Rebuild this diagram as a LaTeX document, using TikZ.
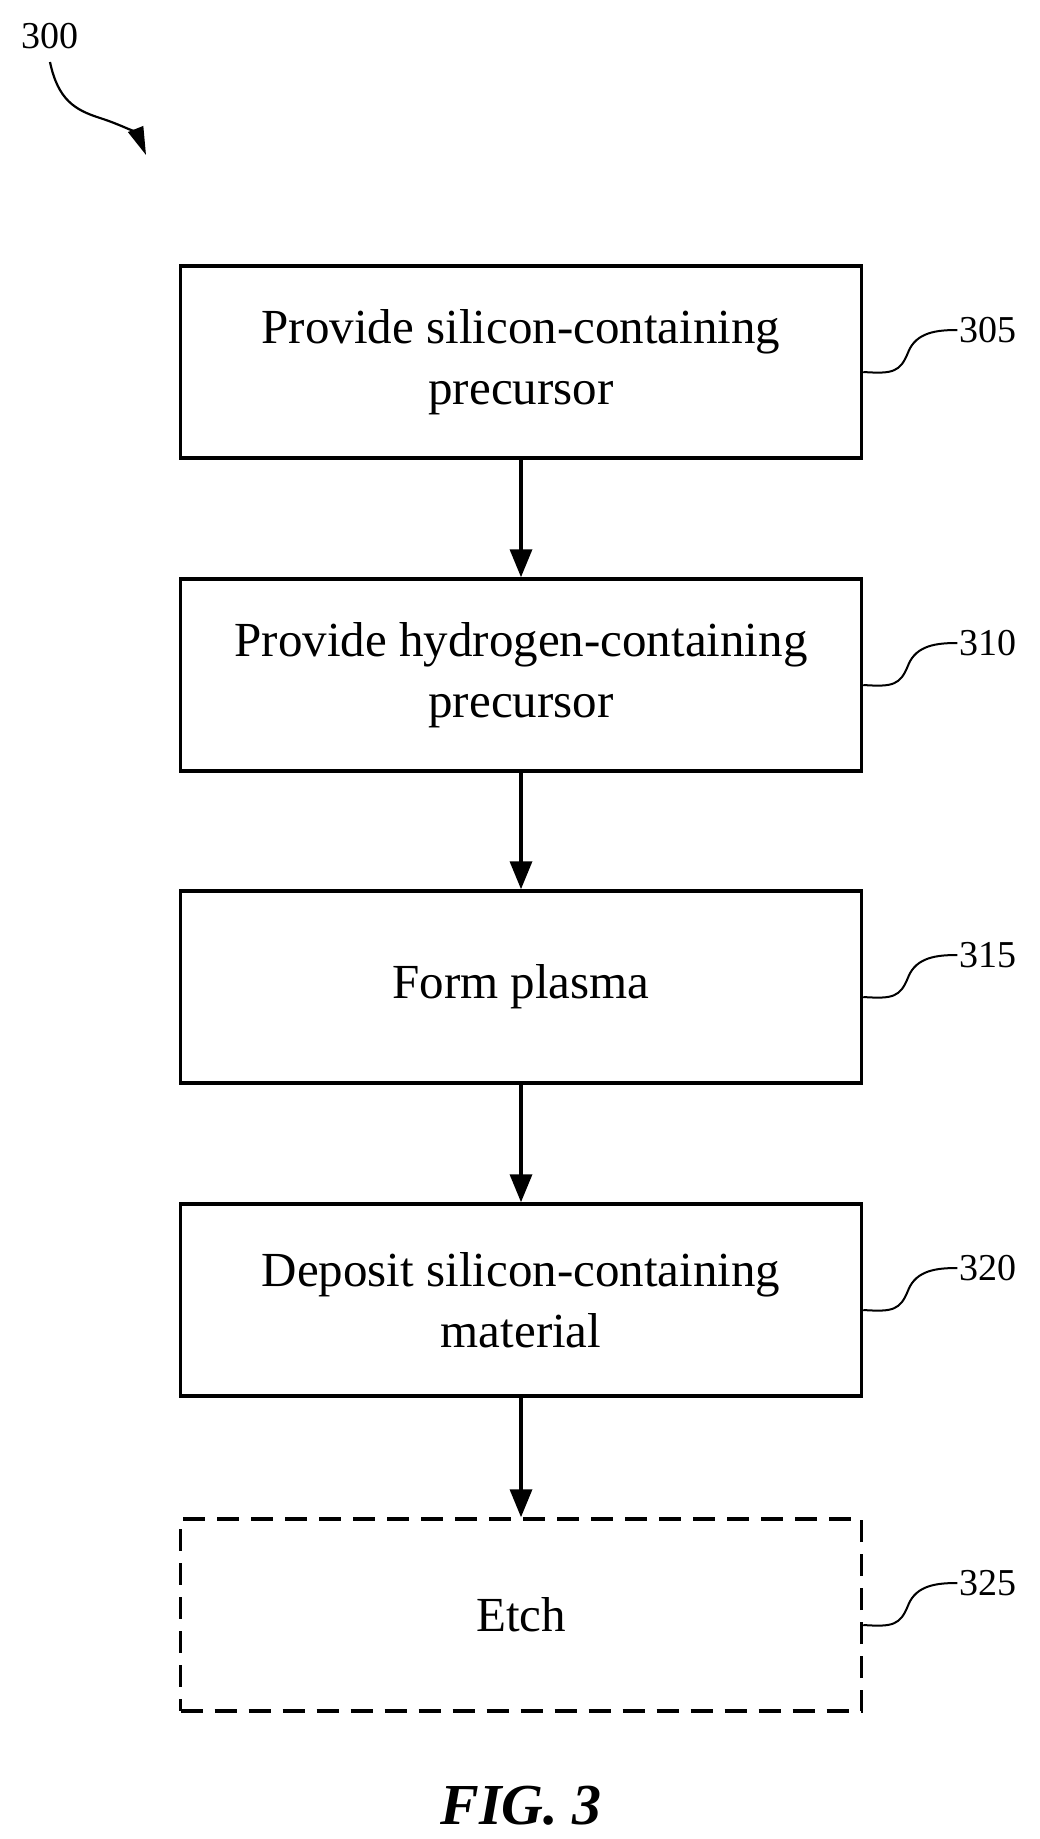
\documentclass[tikz,border=0pt]{standalone}
\usepackage{fontspec}
\setmainfont{Liberation Serif}
\usetikzlibrary{arrows.meta}
\begin{document}
\begin{tikzpicture}[x=1pt,y=-1pt,
  box/.style={draw,line width=3.5pt,minimum width=681pt,minimum height=192pt,align=center,font=\fontsize{49}{61}\selectfont,inner sep=0pt},
  lab/.style={font=\fontsize{38}{44}\selectfont,inner sep=0pt,anchor=west},
  arr/.style={line width=3.5pt,-{Triangle[length=28pt,width=22pt]}},
  sq/.style={line width=2pt}]
\useasboundingbox (0,0) rectangle (1039,1839);
\node[box] (b1) at (521,362) {Provide silicon-containing\\precursor};
\node[box] (b2) at (521,675) {Provide hydrogen-containing\\precursor};
\node[box] (b3) at (521,987) {Form plasma};
\node[box] (b4) at (521,1300) {Deposit silicon-containing\\material};
\node[box,dash pattern=on 22pt off 12pt] (b5) at (521,1615) {Etch};
\foreach \a/\b in {b1/b2,b2/b3,b3/b4,b4/b5} \draw[arr] (\a.south) -- (\b.north);
\foreach \b/\t in {b1/305,b2/310,b3/315,b4/320,b5/325}{
  \node[lab] (l\b) at ([xshift=96pt,yshift=32pt]\b.east) {\t};
  \draw[sq] ([yshift=-10pt]\b.east) .. controls +(30,2) and +(-8,20) .. ([xshift=45pt,yshift=10pt]\b.east) .. controls +(8,-20) and +(-20,0) .. ([xshift=-2pt]l\b.west);
}
\node[lab,anchor=center] (l300) at (50,36) {300};
\coordinate (t300) at (146,155);
\draw[line width=2.2pt,-{Triangle[length=28pt,width=16pt]}] (50,62) .. controls (58,100) and (75,110) .. (100,118) .. controls (125,126) and (138,135) .. (t300);
\node[font=\fontsize{58}{66}\selectfont\bfseries\itshape] (fig) at (521,1806) {FIG. 3};
\end{tikzpicture}
\end{document}
